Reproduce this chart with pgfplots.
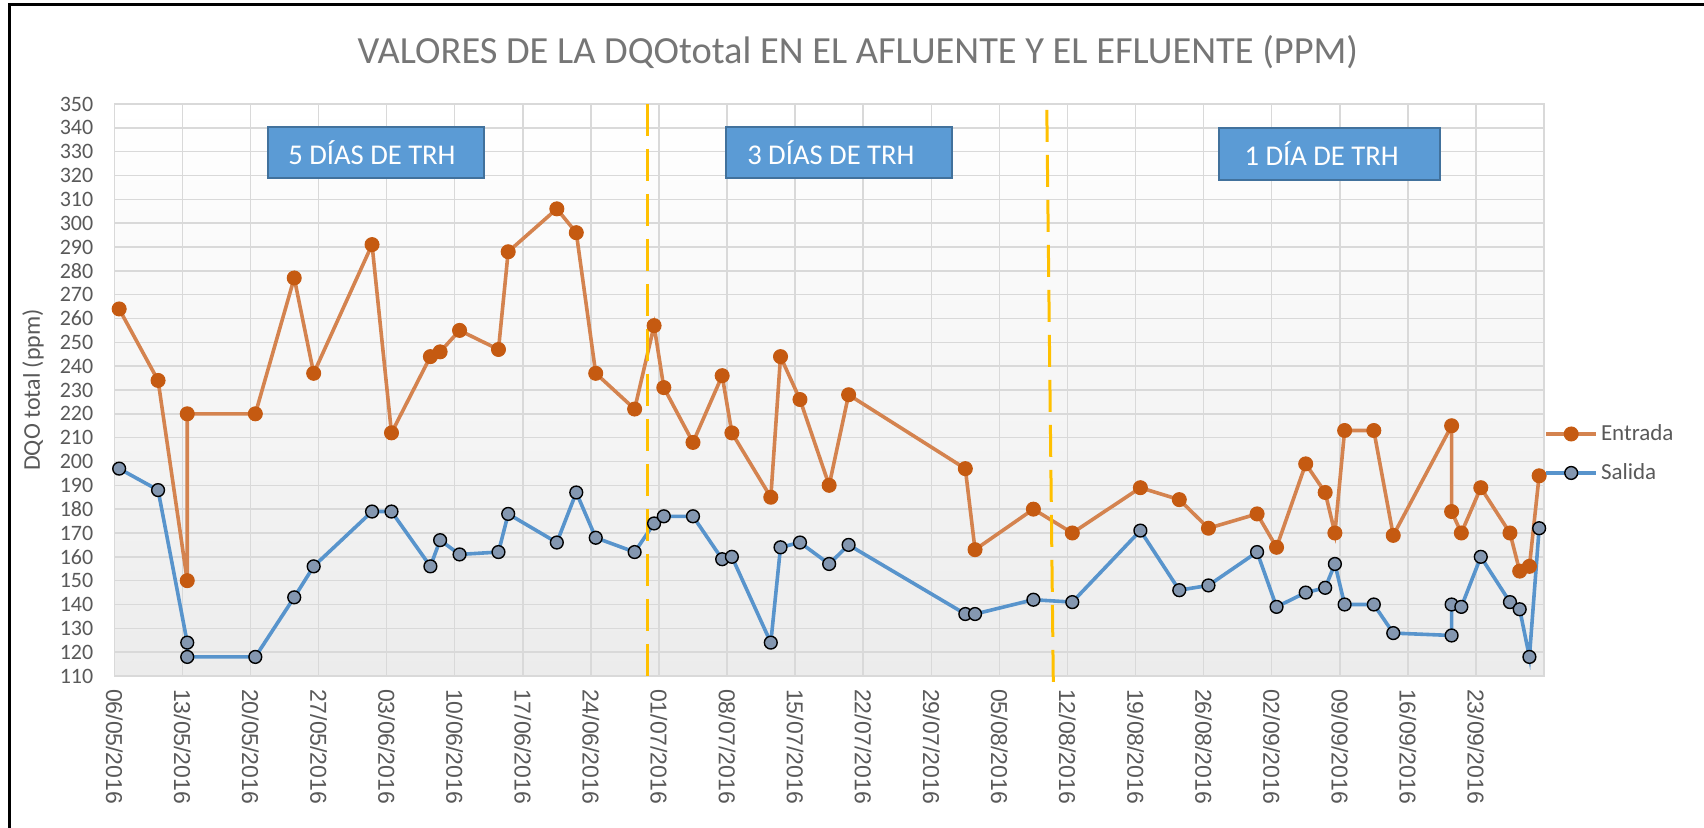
\documentclass[border=0pt]{standalone}
\usepackage{pgfplots}
\pgfplotsset{compat=1.18}
\usepackage{pgfplotstable}
\usepackage{fontspec}
\setmainfont{Carlito}
\newfontfamily\xfont{Liberation Sans}
\definecolor{ent}{RGB}{212,131,79}
\definecolor{entm}{RGB}{197,90,17}
\definecolor{sal}{RGB}{88,148,204}
\definecolor{salm}{RGB}{132,151,176}
\definecolor{gridc}{RGB}{217,217,217}
\definecolor{txt}{RGB}{89,89,89}
\definecolor{ttl}{RGB}{118,118,118}
\definecolor{boxf}{RGB}{91,155,213}
\definecolor{boxd}{RGB}{65,113,156}
\definecolor{yel}{RGB}{255,192,0}

% x = days since 06/05/2016 (+0.5, centred in the day cell)
\pgfplotstableread{
x y
0.5 264
4.5 234
7.5 150
7.5 220
14.5 220
18.5 277
20.5 237
26.5 291
28.5 212
32.5 244
33.5 246
35.5 255
39.5 247
40.5 288
45.5 306
47.5 296
49.5 237
53.5 222
55.5 257
56.5 231
59.5 208
62.5 236
63.5 212
67.5 185
68.5 244
70.5 226
73.5 190
75.5 228
87.5 197
88.5 163
94.5 180
98.5 170
105.5 189
109.5 184
112.5 172
117.5 178
119.5 164
122.5 199
124.5 187
125.5 170
126.5 213
129.5 213
131.5 169
137.5 215
137.5 179
138.5 170
140.5 189
143.5 170
144.5 154
145.5 156
146.5 194
}\entrada

\pgfplotstableread{
x y
0.5 197
4.5 188
7.5 124
7.5 118
14.5 118
18.5 143
20.5 156
26.5 179
28.5 179
32.5 156
33.5 167
35.5 161
39.5 162
40.5 178
45.5 166
47.5 187
49.5 168
53.5 162
55.5 174
56.5 177
59.5 177
62.5 159
63.5 160
67.5 124
68.5 164
70.5 166
73.5 157
75.5 165
87.5 136
88.5 136
94.5 142
98.5 141
105.5 171
109.5 146
112.5 148
117.5 162
119.5 139
122.5 145
124.5 147
125.5 157
126.5 140
129.5 140
131.5 128
137.5 127
137.5 140
138.5 139
140.5 160
143.5 141
144.5 138
145.5 118
146.5 172
}\salida

\begin{document}
\begin{tikzpicture}
\path[use as bounding box] (0,0) rectangle (852pt,414pt);
\draw[line width=1.5pt] (4.65pt,0) -- (4.65pt,411.5pt) -- (852pt,411.5pt);
\node[text=ttl, font=\fontsize{19.2}{23}\selectfont] at (429pt,388pt) {VALORES DE LA DQOtotal EN EL AFLUENTE Y EL EFLUENTE (PPM)};
\begin{axis}[
  at={(57.15pt,76pt)}, anchor=south west,
  scale only axis, width=714.85pt, height=286pt,
  xmin=0, xmax=147, ymin=110, ymax=350,
  xtick={0,7,...,147},
  xticklabels={06/05/2016,13/05/2016,20/05/2016,27/05/2016,03/06/2016,10/06/2016,17/06/2016,24/06/2016,01/07/2016,08/07/2016,15/07/2016,22/07/2016,29/07/2016,05/08/2016,12/08/2016,19/08/2016,26/08/2016,02/09/2016,09/09/2016,16/09/2016,23/09/2016,{}},
  ytick={110,120,...,350},
  grid=major,
  major grid style={gridc, line width=0.75pt},
  axis line style={gridc, line width=0.75pt},
  major tick length=0pt,
  tick label style={text=txt},
  /pgf/number format/assume math mode=true,
  yticklabel style={font=\fontsize{11}{13}\selectfont},
  yticklabel shift=7pt,
  xticklabel style={rotate=-90, anchor=west, font=\xfont\fontsize{11.5}{13}\selectfont},
  xticklabel shift=3pt,
  ylabel={DQO total (ppm)},
  every axis y label/.style={at={(axis description cs:-0.0568,0.5)}, rotate=90, anchor=center, font=\fontsize{12}{14}\selectfont, text=txt},
  axis background/.style={shade, top color=white, bottom color={rgb,255:red,236;green,236;blue,236}},
  clip=false,
  legend style={at={(1,0.389)}, anchor=west, draw=none, fill=none, inner sep=0pt, row sep=7pt,
     font=\fontsize{11.5}{13}\selectfont, text=txt, nodes={inner sep=1.5pt}},
  legend cell align=left,
  legend image code/.code={\draw[mark repeat=2,mark phase=2,#1] plot coordinates {(0pt,0pt) (12.5pt,0pt) (25pt,0pt)};},
]
\addplot[ent, line width=1.8pt, mark=*, mark size=3.5pt, mark options={fill=entm, draw=entm, line width=0.5pt}] table[x=x,y=y] {\entrada};
\addlegendentry{Entrada}
\addplot[sal, line width=1.8pt, mark=*, mark size=3.2pt, mark options={fill=salm, draw=black, line width=0.7pt}] table[x=x,y=y] {\salida};
\addlegendentry{Salida}

\draw[yel, line width=1.5pt, dash pattern=on 16pt off 6.5pt] (axis cs:54.87,350) -- (axis cs:54.87,107.5);
\draw[yel, line width=1.5pt, dash pattern=on 16pt off 6.5pt] (axis cs:95.88,347.5) -- (axis cs:96.55,106.5);

\draw[boxd, fill=boxf, line width=1pt] (axis cs:15.8,318.8) rectangle (axis cs:38.0,340.2);
\node[anchor=base west, text=white, font=\fontsize{14.3}{16}\selectfont, inner sep=0pt] at ([xshift=10pt]axis cs:15.8,324.4) {5 DÍAS DE TRH};
\draw[boxd, fill=boxf, line width=1pt] (axis cs:62.9,318.8) rectangle (axis cs:86.1,340.2);
\node[anchor=base west, text=white, font=\fontsize{14.3}{16}\selectfont, inner sep=0pt] at ([xshift=10.4pt]axis cs:62.9,324.4) {3 DÍAS DE TRH};
\draw[boxd, fill=boxf, line width=1pt] (axis cs:113.6,318.1) rectangle (axis cs:136.3,339.8);
\node[anchor=base west, text=white, font=\fontsize{14.3}{16}\selectfont, inner sep=0pt] at ([xshift=12.5pt]axis cs:113.6,324.0) {1 DÍA DE TRH};
\end{axis}
\end{tikzpicture}
\end{document}
